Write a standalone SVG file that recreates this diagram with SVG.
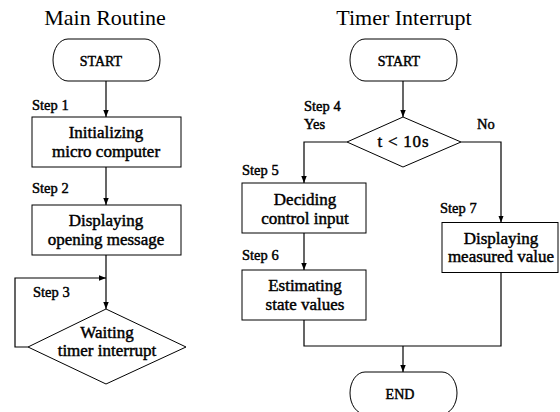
<svg xmlns="http://www.w3.org/2000/svg" width="560" height="412" viewBox="0 0 560 412">
<style>
.title{font-family:"Liberation Serif","Times New Roman",serif;font-size:22px;fill:#000;text-anchor:middle}
.t{font-family:"Liberation Serif","Times New Roman",serif;font-size:17px;fill:#000;stroke:#000;stroke-width:0.45;text-anchor:middle}
.term{font-family:"Liberation Serif","Times New Roman",serif;font-size:14px;fill:#000;stroke:#000;stroke-width:0.45;text-anchor:middle}
.step{font-family:"Liberation Serif","Times New Roman",serif;font-size:14.5px;fill:#000;stroke:#000;stroke-width:0.45}
.shape{fill:#fff;stroke:#000;stroke-width:1}
.line{fill:none;stroke:#000;stroke-width:1.2}
.arr{marker-end:url(#ah)}
</style>
<defs>
<marker id="ah" markerWidth="7" markerHeight="9" refX="9" refY="3.5" orient="auto" markerUnits="userSpaceOnUse" viewBox="0 0 9 7">
<path d="M0,0 L9,3.5 L0,7 z" fill="#000"/>
</marker>
</defs>
<rect width="560" height="412" fill="#fff"/>
<text class="title" x="105" y="25">Main Routine</text>
<text class="title" x="404" y="25">Timer Interrupt</text>
<g id="connectors">
<line class="line arr" x1="106" y1="81" x2="106" y2="117"/>
<line class="line arr" x1="106" y1="167" x2="106" y2="205"/>
<line class="line arr" x1="106" y1="255" x2="106" y2="309"/>
<polyline class="line arr" points="28,347 15,347 15,278 106,278"/>
<line class="line arr" x1="403" y1="81" x2="403" y2="117"/>
<polyline class="line arr" points="347,142 304,142 304,183"/>
<polyline class="line arr" points="461,142 501,142 501,222.5"/>
<line class="line arr" x1="304" y1="233" x2="304" y2="270"/>
<polyline class="line" points="304,320 304,346 501,346 501,272.5"/>
<line class="line arr" x1="403" y1="346" x2="403" y2="372"/>
</g>
<g id="start_main">
<rect class="shape" x="53" y="39" width="107" height="42" rx="15" ry="21"/>
<text class="term" x="101" y="65.5">START</text>
</g>
<g id="step1">
<text class="step" x="32" y="110">Step 1</text>
<rect class="shape" x="32" y="117" width="149" height="50"/>
<text class="t" x="106" y="138">Initializing</text>
<text class="t" x="106" y="156.5">micro computer</text>
</g>
<g id="step2">
<text class="step" x="32" y="193">Step 2</text>
<rect class="shape" x="32" y="205" width="149" height="50"/>
<text class="t" x="106" y="226">Displaying</text>
<text class="t" x="106" y="244.5">opening message</text>
</g>
<g id="step3">
<text class="step" x="33" y="297">Step 3</text>
<polygon class="shape" points="106,309 186,347 106,384 28,347"/>
<text class="t" x="107" y="338">Waiting</text>
<text class="t" x="107" y="356">timer interrupt</text>
</g>
<g id="start_timer">
<rect class="shape" x="350" y="39" width="107" height="42" rx="15" ry="21"/>
<text class="term" x="399" y="65.5">START</text>
</g>
<g id="step4">
<text class="step" x="304" y="111">Step 4</text>
<text class="step" x="304" y="129">Yes</text>
<text class="step" x="477" y="129">No</text>
<polygon class="shape" points="403,117 461,142 403,167 347,142"/>
<text class="t" x="403" y="147" textLength="51" lengthAdjust="spacing">t &lt; 10s</text>
</g>
<g id="step5">
<text class="step" x="242" y="175">Step 5</text>
<rect class="shape" x="242" y="183" width="124" height="50"/>
<text class="t" x="305" y="205">Deciding</text>
<text class="t" x="305" y="223.5">control input</text>
</g>
<g id="step6">
<text class="step" x="242" y="260">Step 6</text>
<rect class="shape" x="242" y="270" width="124" height="50"/>
<text class="t" x="305" y="291">Estimating</text>
<text class="t" x="305" y="309.5">state values</text>
</g>
<g id="step7">
<text class="step" x="440" y="213">Step 7</text>
<rect class="shape" x="442" y="222.5" width="116" height="50"/>
<text class="t" x="501" y="243.5">Displaying</text>
<text class="t" x="501" y="262">measured value</text>
</g>
<g id="end">
<rect class="shape" x="350" y="372" width="107" height="42" rx="15" ry="21"/>
<text class="term" x="400" y="398.5">END</text>
</g>
</svg>
